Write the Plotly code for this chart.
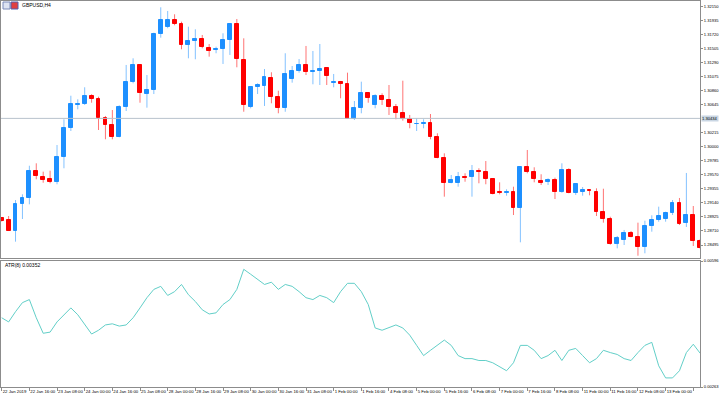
import plotly.graph_objects as go

# ---------------- data ----------------
open_ = [1.28904, 1.28878, 1.28714, 1.29123, 1.29210, 1.29628, 1.29532, 1.29501, 1.29460, 1.29843,
         1.30291, 1.30639, 1.30654, 1.30781, 1.30726, 1.30440, 1.30333, 1.30149, 1.30604, 1.30987,
         1.31247, 1.30807, 1.30864, 1.31722, 1.31829, 1.31941, 1.31879, 1.31558, 1.31615, 1.31650,
         1.31507, 1.31481, 1.31497, 1.31634, 1.31875, 1.31328, 1.30604, 1.30910, 1.30930, 1.31057,
         1.30766, 1.30593, 1.31037, 1.31160, 1.31247, 1.31149, 1.31155, 1.31201, 1.30981, 1.30991,
         1.30961, 1.30429, 1.30598, 1.30823, 1.30639, 1.30781, 1.30716, 1.30608, 1.30521, 1.30420,
         1.30343, 1.30353, 1.30359, 1.30154, 1.29832, 1.29449, 1.29449, 1.29541, 1.29532, 1.29628,
         1.29608, 1.29506, 1.29302, 1.29296, 1.29311, 1.29066, 1.29685, 1.29618, 1.29475, 1.29455,
         1.29486, 1.29302, 1.29639, 1.29296, 1.29307, 1.29342, 1.29311, 1.29000, 1.28893, 1.28506,
         1.28576, 1.28674, 1.28617, 1.28469, 1.28786, 1.28878, 1.28898, 1.28985, 1.29143, 1.28832,
         1.28954, 1.28556]
high = [1.28916, 1.28939, 1.29184, 1.29271, 1.29709, 1.29746, 1.29618, 1.29633, 1.30026, 1.30420,
        1.30781, 1.30726, 1.30910, 1.30803, 1.30766, 1.30471, 1.30562, 1.30634, 1.31252, 1.31354,
        1.31258, 1.31098, 1.31746, 1.32135, 1.32079, 1.32028, 1.31915, 1.31838, 1.31798, 1.31711,
        1.31573, 1.31532, 1.31737, 1.31890, 1.31956, 1.31660, 1.30919, 1.30971, 1.31190, 1.31140,
        1.30858, 1.31431, 1.31236, 1.31343, 1.31543, 1.31466, 1.31573, 1.31205, 1.31114, 1.31007,
        1.31134, 1.30700, 1.30996, 1.30833, 1.30803, 1.30818, 1.30945, 1.30654, 1.31011, 1.30486,
        1.30435, 1.30420, 1.30501, 1.30206, 1.29899, 1.29567, 1.29613, 1.29593, 1.29720, 1.29670,
        1.29781, 1.29510, 1.29455, 1.29348, 1.29388, 1.29690, 1.29950, 1.29685, 1.29578, 1.29516,
        1.29526, 1.29746, 1.29670, 1.29440, 1.29383, 1.29348, 1.29363, 1.29357, 1.28928, 1.28633,
        1.28725, 1.28709, 1.28837, 1.28867, 1.28950, 1.29082, 1.29005, 1.29184, 1.29215, 1.29598,
        1.29092, 1.28587]
low = [1.28855, 1.28709, 1.28546, 1.28893, 1.29118, 1.29501, 1.29449, 1.29440, 1.29425, 1.29670,
       1.30241, 1.30573, 1.30639, 1.30674, 1.30256, 1.30114, 1.30114, 1.30144, 1.30547, 1.30971,
       1.30674, 1.30598, 1.30807, 1.31670, 1.31814, 1.31860, 1.31492, 1.31354, 1.31339, 1.31507,
       1.31379, 1.31431, 1.31267, 1.31405, 1.31216, 1.30536, 1.30588, 1.30807, 1.30624, 1.30665,
       1.30512, 1.30536, 1.30981, 1.31134, 1.31098, 1.30956, 1.30945, 1.30945, 1.30910, 1.30742,
       1.30425, 1.30409, 1.30512, 1.30674, 1.30588, 1.30639, 1.30486, 1.30420, 1.30399, 1.30282,
       1.30241, 1.30282, 1.30114, 1.29823, 1.29235, 1.29440, 1.29388, 1.29464, 1.29235, 1.29440,
       1.29425, 1.29271, 1.29271, 1.29250, 1.28954, 1.28536, 1.29593, 1.29455, 1.29414, 1.29414,
       1.29199, 1.29296, 1.29287, 1.29261, 1.29250, 1.29256, 1.28939, 1.28837, 1.28500, 1.28444,
       1.28495, 1.28613, 1.28331, 1.28368, 1.28699, 1.28852, 1.28852, 1.28954, 1.28801, 1.28771,
       1.28480, 1.28434]
close = [1.28867, 1.28714, 1.29123, 1.29210, 1.29628, 1.29556, 1.29490, 1.29460, 1.29847, 1.30291,
         1.30650, 1.30659, 1.30781, 1.30726, 1.30440, 1.30333, 1.30149, 1.30604, 1.30987, 1.31247,
         1.30818, 1.30869, 1.31722, 1.31941, 1.31941, 1.31879, 1.31558, 1.31615, 1.31650, 1.31523,
         1.31466, 1.31501, 1.31634, 1.31875, 1.31343, 1.30639, 1.30910, 1.30941, 1.31063, 1.30762,
         1.30598, 1.31114, 1.31160, 1.31247, 1.31149, 1.31160, 1.31190, 1.31083, 1.30991, 1.30965,
         1.30429, 1.30598, 1.30823, 1.30742, 1.30781, 1.30716, 1.30613, 1.30521, 1.30420, 1.30359,
         1.30353, 1.30363, 1.30154, 1.29832, 1.29449, 1.29490, 1.29536, 1.29521, 1.29628, 1.29608,
         1.29506, 1.29276, 1.29291, 1.29311, 1.29066, 1.29685, 1.29618, 1.29501, 1.29449, 1.29490,
         1.29302, 1.29639, 1.29291, 1.29434, 1.29342, 1.29317, 1.29000, 1.28893, 1.28506, 1.28602,
         1.28679, 1.28617, 1.28469, 1.28786, 1.28878, 1.28939, 1.28981, 1.29138, 1.28817, 1.28954,
         1.28556, 1.28449]
atr = [0.00446, 0.00435, 0.00462, 0.00486, 0.00494, 0.00446, 0.00405, 0.00408, 0.00435, 0.00454,
       0.00472, 0.00454, 0.00427, 0.00403, 0.00413, 0.00427, 0.00430, 0.00424, 0.00427, 0.00446,
       0.00472, 0.00499, 0.00521, 0.00529, 0.00505, 0.00515, 0.00534, 0.00507, 0.00489, 0.00467,
       0.00456, 0.00459, 0.00481, 0.00494, 0.00521, 0.00574, 0.00561, 0.00548, 0.00534, 0.00540,
       0.00521, 0.00534, 0.00529, 0.00515, 0.00499, 0.00494, 0.00505, 0.00499, 0.00486, 0.00515,
       0.00537, 0.00537, 0.00515, 0.00481, 0.00419, 0.00413, 0.00419, 0.00427, 0.00419, 0.00400,
       0.00373, 0.00346, 0.00360, 0.00373, 0.00387, 0.00373, 0.00346, 0.00338, 0.00338, 0.00333,
       0.00333, 0.00327, 0.00317, 0.00306, 0.00327, 0.00373, 0.00373, 0.00360, 0.00338, 0.00346,
       0.00360, 0.00333, 0.00360, 0.00365, 0.00346, 0.00327, 0.00338, 0.00360, 0.00354, 0.00349,
       0.00338, 0.00333, 0.00354, 0.00373, 0.00381, 0.00319, 0.00287, 0.00287, 0.00306, 0.00354,
       0.00376, 0.00352]
time_labels = ["22 Jan 2019", "22 Jan 16:00", "23 Jan 08:00", "24 Jan 00:00", "24 Jan 16:00",
               "25 Jan 08:00", "28 Jan 00:00", "28 Jan 16:00", "29 Jan 08:00", "30 Jan 00:00",
               "30 Jan 16:00", "31 Jan 08:00", "1 Feb 00:00", "1 Feb 16:00", "4 Feb 08:00",
               "5 Feb 00:00", "5 Feb 16:00", "6 Feb 08:00", "7 Feb 00:00", "7 Feb 16:00",
               "8 Feb 08:00", "11 Feb 00:00", "11 Feb 16:00", "12 Feb 08:00", "13 Feb 00:00",
               "13 Feb 16:00"]
price_ticks = [1.32150, 1.31935, 1.31720, 1.31505, 1.31290, 1.31075, 1.30860, 1.30645,
               1.30215, 1.30000, 1.29785, 1.29570, 1.29355, 1.29140, 1.28925, 1.28710, 1.28495]
atr_ticks = [0.00263, 0.00596]
current_price = 1.30434
symbol = "GBPUSD,H4"
atr_title = "ATR(8) 0.00352"

# ---------------- figure ----------------
W, H = 720, 399
n = len(open_)
xs = list(range(n))
BULL = "#1E90FF"
BEAR = "#FF0000"
AXC = "#8C8C8C"
FONT = "Liberation Sans, Arial, sans-serif"
YFS = 4.1

fig = go.Figure()

# wicks
for is_up, col in ((True, "rgba(30,144,255,0.55)"), (False, "rgba(255,0,0,0.55)")):
    wx, wy = [], []
    for i in xs:
        if (close[i] >= open_[i]) == is_up:
            wx += [i, i, None]
            wy += [low[i], high[i], None]
    fig.add_trace(go.Scatter(x=wx, y=wy, mode="lines", line=dict(color=col, width=1),
                             xaxis="x", yaxis="y", hoverinfo="skip", showlegend=False))

# bodies
for is_up, col in ((True, BULL), (False, BEAR)):
    bx, bb, bh = [], [], []
    for i in xs:
        if (close[i] >= open_[i]) == is_up:
            bx.append(i)
            bb.append(min(open_[i], close[i]))
            bh.append(abs(close[i] - open_[i]))
    fig.add_trace(go.Bar(x=bx, y=bh, base=bb, width=0.56, marker=dict(color=col, line=dict(color=col, width=1)),
                         xaxis="x", yaxis="y", showlegend=False, hoverinfo="skip"))

# ATR line
fig.add_trace(go.Scatter(x=xs, y=atr, mode="lines", line=dict(color="#62CFC8", width=1),
                         xaxis="x2", yaxis="y2", showlegend=False, hoverinfo="skip"))

xdom = [1 / W, 700 / W]
main_dom = [1 - 258 / H, 1 - 1 / H]
atr_dom = [1 - 387 / H, 1 - 261 / H]
xr = [-0.1, 100.97]

# price range from pixel geometry of the panel
ppx = 0.00215 / 14.04
ytop = 1.28495 + (245 - 1) * ppx
ybot = 1.28495 - (258 - 245) * ppx

common_axis = dict(showline=True, mirror=True, linecolor=AXC, linewidth=1, showgrid=False,
                   zeroline=False, fixedrange=True, automargin=False)

fig.update_layout(
    width=W, height=H, margin=dict(l=0, r=0, t=0, b=0, autoexpand=False),
    paper_bgcolor="white", plot_bgcolor="white", barmode="overlay", bargap=0,
    font=dict(family=FONT, size=5, color="#000000"),
    xaxis=dict(domain=xdom, anchor="y", range=xr, showticklabels=False, ticks="", **common_axis),
    yaxis=dict(domain=main_dom, anchor="x", range=[ybot, ytop], side="right",
               tickvals=price_ticks, ticktext=[f"{v:.5f}" for v in price_ticks],
               ticks="outside", ticklen=2, tickcolor=AXC, tickfont=dict(size=YFS, family=FONT),
               **common_axis),
    xaxis2=dict(domain=xdom, anchor="y2", range=xr, matches="x", tickangle=0,
                tickvals=[4 * k for k in range(len(time_labels))], ticktext=time_labels,
                ticks="outside", ticklen=3, tickcolor=AXC, ticklabelposition="outside right",
                tickfont=dict(size=4.3, family=FONT), **common_axis),
    yaxis2=dict(domain=atr_dom, anchor="x2", range=[atr_ticks[0], atr_ticks[1]], side="right",
                tickvals=atr_ticks, ticktext=[f"{v:.5f}" for v in atr_ticks],
                ticks="outside", ticklen=2, tickcolor=AXC, tickfont=dict(size=YFS, family=FONT),
                **common_axis),
)

# current price line and label
fig.add_shape(type="line", xref="x", yref="y", x0=xr[0], x1=xr[1], y0=current_price, y1=current_price,
              line=dict(color="#B8C2CC", width=1))
fig.add_annotation(xref="paper", yref="y", x=701 / W, y=current_price, xanchor="left", yanchor="middle",
                   text=f"{current_price:.5f}", showarrow=False, bgcolor="#C9D6E3",
                   font=dict(size=YFS, family=FONT, color="#000000"), borderpad=0)

# titles
fig.add_annotation(xref="paper", yref="paper", x=20 / W, y=1 - 5 / H, xanchor="left", yanchor="middle",
                   text=symbol, showarrow=False, font=dict(size=5, family=FONT, color="#000000"))
fig.add_annotation(xref="paper", yref="paper", x=3 / W, y=1 - 265 / H, xanchor="left", yanchor="middle",
                   text=atr_title, showarrow=False, font=dict(size=5, family=FONT, color="#000000"))

# small symbol icon
fig.add_shape(type="rect", xref="paper", yref="paper", x0=3 / W, x1=10 / W, y0=1 - 9 / H, y1=1 - 2 / H,
              line=dict(color="#7A8AB8", width=1), fillcolor="#DDE3F2")
fig.add_shape(type="rect", xref="paper", yref="paper", x0=11 / W, x1=18 / W, y0=1 - 9 / H, y1=1 - 2 / H,
              line=dict(color="#5060B0", width=1), fillcolor="#E04040")

fig.write_html("out.html")
